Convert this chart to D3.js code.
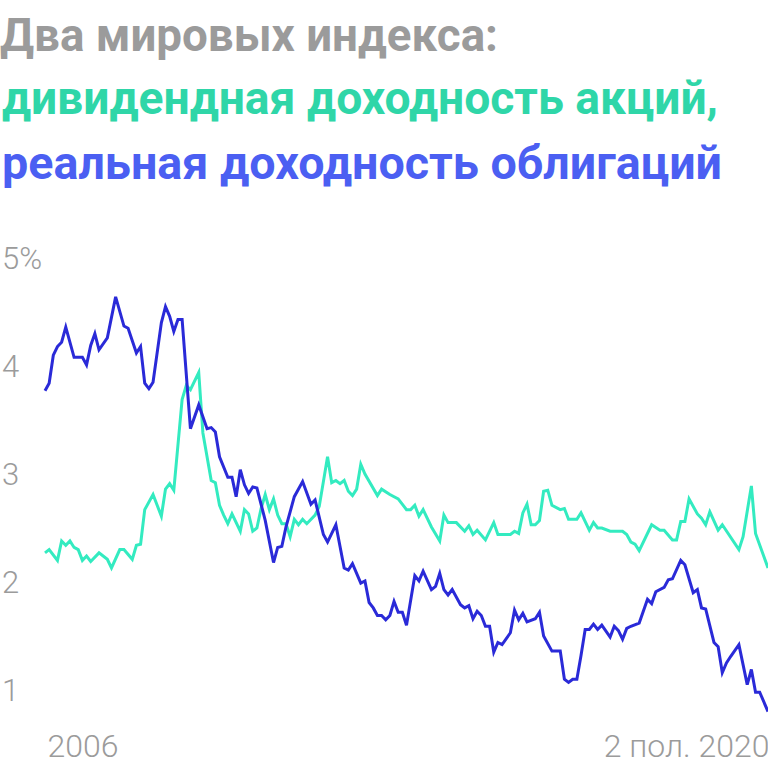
<!DOCTYPE html>
<html><head><meta charset="utf-8">
<script src="https://cdn.jsdelivr.net/npm/d3@7"></script>
<style>
html,body{margin:0;padding:0;background:#fff;}
svg{display:block;}
</style></head>
<body>
<svg id="chart" width="768" height="768"></svg>
<script>
// ---- DATA ----
const titleLines = ["Два мировых индекса:", "дивидендная доходность акций,", "реальная доходность облигаций"];
const yTicks = [5, 4, 3, 2, 1];
const yTickLabels = ["5%", "4", "3", "2", "1"];
const xLabels = ["2006", "2 пол. 2020"];
const startMonth = "2006-01";
const endMonth = "2020-07";

// Dividend yield of world equities (green)
const equityDates = ["2006-01","2006-02","2006-04","2006-05","2006-06","2006-07","2006-08","2006-09","2006-10","2006-11","2006-12",
"2007-02","2007-04","2007-05","2007-07","2007-08","2007-10","2007-11","2007-12",
"2008-01","2008-03","2008-05","2008-06","2008-07","2008-08","2008-10","2008-11","2008-12",
"2009-02","2009-03","2009-04","2009-05","2009-06","2009-07","2009-08","2009-09","2009-10","2009-12",
"2010-01","2010-02","2010-03","2010-04","2010-05","2010-06","2010-07","2010-08","2010-09","2010-10","2010-11","2010-12",
"2011-01","2011-02","2011-03","2011-04","2011-06","2011-07","2011-09","2011-10","2011-11","2011-12",
"2012-01","2012-02","2012-03","2012-04","2012-05","2012-06","2012-09","2012-10","2012-12",
"2013-02","2013-04","2013-05","2013-06","2013-07","2013-08","2013-10","2013-12",
"2014-01","2014-02","2014-04","2014-06","2014-07","2014-08","2014-09","2014-11",
"2015-01","2015-02","2015-05","2015-06","2015-07","2015-08","2015-09","2015-10","2015-11","2015-12",
"2016-01","2016-02","2016-03","2016-05","2016-06","2016-07","2016-09","2016-10","2016-12",
"2017-01","2017-02","2017-03","2017-05","2017-08","2017-09","2017-10","2017-11","2017-12",
"2018-03","2018-05","2018-06","2018-08","2018-09","2018-10","2018-11","2018-12",
"2019-02","2019-03","2019-04","2019-05","2019-07","2019-08","2019-12",
"2020-01","2020-03","2020-04","2020-07"];
const equityValues = [2.27,2.30,2.20,2.38,2.34,2.38,2.32,2.30,2.20,2.24,2.19,
2.27,2.21,2.13,2.30,2.30,2.21,2.34,2.35,
2.67,2.81,2.61,2.86,2.91,2.85,3.69,3.82,3.78,
3.94,3.38,3.16,2.94,2.92,2.71,2.62,2.54,2.63,2.47,
2.67,2.63,2.47,2.50,2.68,2.81,2.67,2.77,2.62,2.54,2.54,2.42,
2.58,2.53,2.58,2.54,2.62,2.70,3.16,2.92,2.94,2.91,
2.94,2.84,2.80,2.86,3.09,3.00,2.80,2.86,2.81,
2.77,2.67,2.67,2.71,2.61,2.67,2.51,2.38,
2.62,2.55,2.55,2.47,2.52,2.44,2.48,2.39,
2.55,2.44,2.44,2.47,2.45,2.64,2.72,2.53,2.53,2.57,
2.84,2.85,2.71,2.67,2.68,2.58,2.58,2.64,2.48,
2.55,2.50,2.50,2.47,2.47,2.44,2.37,2.35,2.29,
2.53,2.48,2.48,2.39,2.39,2.56,2.56,2.77,
2.63,2.59,2.53,2.65,2.48,2.53,2.30,
2.42,2.89,2.45,2.13];

// Real yield of world bonds (blue)
const bondDates = ["2006-01","2006-02","2006-03","2006-04","2006-05","2006-06","2006-08","2006-10","2006-11","2006-12",
"2007-01","2007-02","2007-04","2007-06","2007-08","2007-09","2007-11","2007-12",
"2008-01","2008-02","2008-03","2008-05","2008-06","2008-07","2008-08","2008-09","2008-10","2008-12",
"2009-02","2009-04","2009-05","2009-06","2009-07","2009-09","2009-10","2009-11","2009-12",
"2010-01","2010-02","2010-03","2010-04","2010-06","2010-08","2010-09","2010-10","2010-11",
"2011-01","2011-03","2011-05","2011-06","2011-08","2011-09","2011-11",
"2012-01","2012-02","2012-03","2012-05","2012-06","2012-07","2012-08","2012-09","2012-10","2012-11","2012-12",
"2013-01","2013-02","2013-03","2013-04","2013-06","2013-07","2013-08","2013-10","2013-11","2013-12",
"2014-01","2014-02","2014-03","2014-05","2014-06","2014-07","2014-08","2014-09","2014-10","2014-11","2014-12",
"2015-01","2015-02","2015-03","2015-05","2015-06","2015-07","2015-08","2015-09","2015-11","2015-12",
"2016-01","2016-03","2016-05","2016-06","2016-07","2016-08","2016-09","2016-10","2016-11","2016-12",
"2017-01","2017-02","2017-03","2017-05","2017-06","2017-07","2017-08","2017-09","2017-10","2017-12",
"2018-02","2018-03","2018-04","2018-06","2018-07","2018-08","2018-10","2018-11",
"2019-01","2019-02","2019-03","2019-04","2019-06","2019-07","2019-08","2019-09","2019-10","2019-12",
"2020-02","2020-03","2020-04","2020-05","2020-07"];
const bondValues = [3.77,3.84,4.10,4.18,4.22,4.36,4.08,4.08,4.01,4.19,
4.30,4.15,4.26,4.64,4.37,4.35,4.12,4.18,
3.84,3.79,3.85,4.40,4.55,4.46,4.32,4.43,4.43,3.42,
3.64,3.42,3.43,3.39,3.16,2.97,2.97,2.79,3.04,
2.90,2.82,2.88,2.87,2.57,2.18,2.32,2.33,2.51,
2.79,2.93,2.72,2.76,2.44,2.37,2.53,
2.13,2.11,2.17,1.99,2.01,1.81,1.76,1.69,1.69,1.65,1.69,
1.82,1.72,1.72,1.60,2.06,2.01,2.10,1.93,1.96,2.08,
1.93,1.88,1.93,1.79,1.76,1.78,1.66,1.73,1.69,1.59,1.59,
1.35,1.44,1.42,1.53,1.74,1.65,1.71,1.63,1.66,1.72,
1.50,1.36,1.36,1.10,1.07,1.10,1.10,1.32,1.56,1.56,
1.61,1.56,1.60,1.49,1.59,1.55,1.47,1.57,1.59,1.62,
1.84,1.80,1.91,1.95,2.02,2.03,2.20,2.16,
1.90,1.93,1.76,1.75,1.44,1.40,1.16,1.25,1.31,1.42,
1.05,1.19,0.98,0.98,0.80];

// ---- CHART ----
const svg = d3.select("#chart");
const monthIndex = s => { const [yy, mm] = s.split("-").map(Number); return (yy - 2006) * 12 + (mm - 1); };

const x = d3.scaleLinear().domain([monthIndex(startMonth), monthIndex(endMonth)]).range([45, 768]);
const y = d3.scaleLinear().domain([1, 5]).range([690, 258]);

// Title
const titleColors = ["#9b9b9b", "#2fd6a8", "#4b5ff2"];
const titleBase = [51, 114, 179];
const titleWidths = [498, 716, 720];
svg.append("g").selectAll("text").data(titleLines).join("text")
  .attr("x", (d, i) => i === 0 ? 0 : 2)
  .attr("y", (d, i) => titleBase[i])
  .attr("fill", (d, i) => titleColors[i])
  .attr("font-family", "Roboto, 'Noto Sans', sans-serif")
  .attr("font-weight", 700)
  .attr("font-size", 46)
  .attr("textLength", (d, i) => titleWidths[i])
  .attr("lengthAdjust", "spacingAndGlyphs")
  .text(d => d);

// Y axis labels
const yAxis = d3.axisLeft(y).tickValues(yTicks).tickSize(0).tickPadding(0)
  .tickFormat((d, i) => yTickLabels[i]);
const gy = svg.append("g").attr("transform", "translate(2,0)").call(yAxis);
gy.select(".domain").remove();
gy.selectAll("text")
  .attr("text-anchor", "start")
  .attr("x", 0).attr("dy", "0.34em")
  .attr("fill", "#9b9b9b")
  .attr("font-family", "Roboto, sans-serif")
  .attr("font-weight", 300)
  .attr("font-size", 31);

// X axis labels
const xPos = [monthIndex(startMonth), monthIndex(endMonth)];
const xAxis = d3.axisBottom(x).tickValues(xPos).tickSize(0).tickPadding(0)
  .tickFormat((d, i) => xLabels[i]);
const gx = svg.append("g").attr("transform", "translate(0,734)").call(xAxis);
gx.select(".domain").remove();
gx.selectAll("text")
  .attr("text-anchor", (d, i) => i === 0 ? "start" : "end")
  .attr("dx", (d, i) => i === 0 ? 2 : 1)
  .attr("dy", "0.72em")
  .attr("fill", "#9b9b9b")
  .attr("font-family", "Roboto, sans-serif")
  .attr("font-weight", 300)
  .attr("font-size", 32);

// Lines
const line = d3.line().x(d => x(d.m)).y(d => y(d.v));
const equity = equityDates.map((d, i) => ({ m: monthIndex(d), v: equityValues[i] }));
const bonds = bondDates.map((d, i) => ({ m: monthIndex(d), v: bondValues[i] }));

svg.append("path").datum(equity)
  .attr("d", line).attr("fill", "none")
  .attr("stroke", "#33ebc0").attr("stroke-width", 3);
svg.append("path").datum(bonds)
  .attr("d", line).attr("fill", "none")
  .attr("stroke", "#2a2ad8").attr("stroke-width", 3);
</script>
</body></html>
